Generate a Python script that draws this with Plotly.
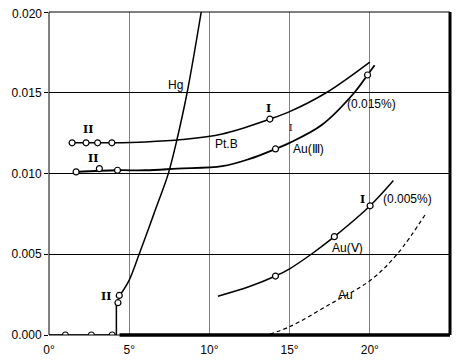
import plotly.graph_objects as go

# upper curve (Pt.B, II -> I)
ptb_x = [1.44, 2.31, 3.03, 3.92, 6.0, 8.3, 10.8, 13.77, 15.0, 17.28, 20.0]
ptb_y = [0.0119, 0.0119, 0.0119, 0.0119, 0.01195, 0.0121, 0.01245, 0.01337, 0.01383, 0.0150, 0.0169]
ptb_pts_x = [1.44, 2.31, 3.03, 3.92, 13.77]
ptb_pts_y = [0.0119, 0.0119, 0.0119, 0.0119, 0.01337]

# Au(III) curve (0.015 %)
au3_x = [1.69, 4.27, 6.0, 8.0, 10.8, 12.5, 14.12, 15.0, 17.0, 19.03, 19.86, 20.3]
au3_y = [0.0101, 0.0102, 0.0102, 0.0103, 0.01045, 0.0109, 0.01152, 0.0119, 0.0130, 0.0150, 0.0161, 0.0167]
au3_pts_x = [1.69, 3.14, 4.27, 14.12, 19.86]
au3_pts_y = [0.0101, 0.0103, 0.0102, 0.01152, 0.0161]

# Hg
hg_step_x = [0.0, 1.02, 2.64, 3.94, 4.2, 4.2]
hg_step_y = [0.0, 0.0, 0.0, 0.0, 0.0, 0.002]
hg_pts_x = [1.02, 2.64, 3.94, 4.3, 4.38]
hg_pts_y = [0.0, 0.0, 0.0, 0.0020, 0.00245]
hg_x = [4.45, 5.0, 5.62, 6.54, 7.31, 7.47, 7.93, 8.61, 9.49]
hg_y = [0.0025, 0.0034, 0.005, 0.0075, 0.0096, 0.0101, 0.0119, 0.0150, 0.0200]

# Au(V) curve (0.005 %)
au5_x = [10.53, 12.5, 14.12, 15.0, 16.35, 17.79, 20.02, 21.47]
au5_y = [0.0024, 0.0030, 0.00365, 0.0041, 0.0050, 0.00609, 0.0080, 0.00956]
au5_pts_x = [14.12, 17.79, 20.02]
au5_pts_y = [0.00365, 0.00609, 0.0080]

# Au dashed
au_x = [13.77, 15.0, 17.5, 20.0, 21.7, 23.53]
au_y = [0.00006, 0.00051, 0.0019, 0.00336, 0.0050, 0.00757]

x_ticks = [0, 5, 10, 15, 20]
x_labels = ["0°", "5°", "10°", "15°", "20°"]
y_ticks = [0, 0.005, 0.010, 0.015, 0.020]
y_labels = ["0.000", "0.005", "0.010", "0.015", "0.020"]

fig = go.Figure()

line = dict(color="black", width=1.5)
mk = dict(symbol="circle", size=6, color="white", line=dict(color="black", width=1.2))

fig.add_trace(go.Scatter(x=ptb_x, y=ptb_y, mode="lines", line=line, line_shape="spline"))
fig.add_trace(go.Scatter(x=au3_x, y=au3_y, mode="lines", line=dict(color="black", width=1.8), line_shape="spline"))
fig.add_trace(go.Scatter(x=hg_step_x, y=hg_step_y, mode="lines", line=line))
fig.add_trace(go.Scatter(x=hg_x, y=hg_y, mode="lines", line=line, line_shape="spline"))
fig.add_trace(go.Scatter(x=au5_x, y=au5_y, mode="lines", line=line, line_shape="spline"))
fig.add_trace(go.Scatter(x=au_x, y=au_y, mode="lines", line=dict(color="black", width=1.2, dash="4px,3px"), line_shape="spline"))

for px_, py_ in [(ptb_pts_x, ptb_pts_y), (au3_pts_x, au3_pts_y), (hg_pts_x, hg_pts_y), (au5_pts_x, au5_pts_y)]:
    fig.add_trace(go.Scatter(x=px_, y=py_, mode="markers", marker=mk))

# labels
sans = dict(family="Liberation Sans", size=12, color="black")
roman = dict(family="DejaVu Serif", size=11, color="black")
labels = [
    (2.45, 0.0127, "<b>II</b>", roman, "center"),
    (2.72, 0.0109, "<b>II</b>", roman, "center"),
    (3.55, 0.0024, "<b>II</b>", roman, "center"),
    (13.66, 0.0140, "<b>I</b>", roman, "center"),
    (15.1, 0.0128, "I", dict(family="DejaVu Serif", size=9, color="black"), "center"),
    (19.55, 0.0084, "<b>I</b>", roman, "center"),
    (8.45, 0.0155, "Hg", sans, "right"),
    (10.2, 0.0118, "Pt.B", sans, "left"),
    (15.1, 0.0115, "Au(Ⅲ)", sans, "left"),
    (18.45, 0.0143, "(0.015%)", sans, "left"),
    (20.68, 0.0084, "(0.005%)", sans, "left"),
    (17.5, 0.0054, "Au(Ⅴ)", sans, "left"),
    (17.9, 0.0025, "Au", sans, "left"),
]
for x, y, t, f, a in labels:
    fig.add_annotation(x=x, y=y, text=t, showarrow=False, font=f, xanchor=a, yanchor="middle")

# top tick label sits on the figure edge, so it is drawn as an annotation, nudged down a touch
fig.add_annotation(xref="paper", x=0, y=y_ticks[-1], text=y_labels[-1], showarrow=False,
                   xanchor="right", yanchor="middle", xshift=-5, yshift=-2, font=sans)

# frame
fig.add_shape(type="line", xref="paper", yref="paper", x0=0, x1=0, y0=0, y1=1, line=dict(color="black", width=1))
fig.add_shape(type="line", xref="paper", yref="paper", x0=0, x1=1, y0=1, y1=1, line=dict(color="black", width=1))
fig.add_shape(type="line", xref="paper", yref="paper", x0=1, x1=1, y0=0, y1=1, line=dict(color="black", width=3))
fig.add_shape(type="line", xref="paper", yref="paper", x0=0, x1=1, y0=0, y1=0, line=dict(color="black", width=1))
fig.add_shape(type="line", xref="x", yref="paper", x0=4.4, x1=25, y0=0, y1=0, line=dict(color="black", width=3.5))

# page body has an 8px margin, so the figure is a bit smaller than the window
fig.update_layout(
    width=452, height=353,
    margin=dict(l=38, r=10, t=4, b=26),
    plot_bgcolor="white", paper_bgcolor="white",
    showlegend=False,
    font=dict(family="Liberation Sans", size=12, color="black"),
)
fig.update_xaxes(
    range=[0, 25], tickvals=x_ticks, ticktext=x_labels,
    showgrid=True, gridcolor="#808080", gridwidth=1,
    zeroline=False, showline=False, ticks="", ticklabelstandoff=6,
)
fig.update_yaxes(
    range=[0, 0.020], tickvals=y_ticks, ticktext=y_labels[:-1] + [""],
    showgrid=True, gridcolor="black", gridwidth=1,
    zeroline=False, showline=False, ticks="outside", ticklen=4, tickcolor="black",
)

fig.write_html("out.html", config={"displayModeBar": False})
